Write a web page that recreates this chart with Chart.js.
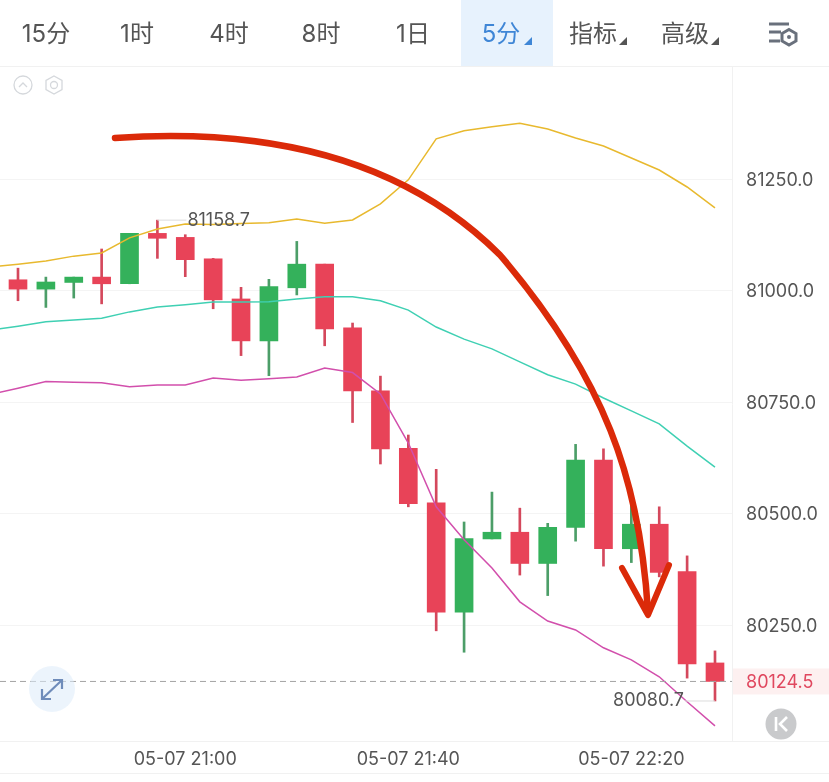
<!DOCTYPE html>
<html lang="zh">
<head>
<meta charset="utf-8">
<title>K线图</title>
<script src="https://cdn.jsdelivr.net/npm/chart.js@4/dist/chart.umd.min.js"></script>
<style>
    html, body { margin: 0; padding: 0; background: #fff; }
    #page { position: relative; width: 829px; height: 782px; overflow: hidden; font-family: Inter, "Noto Sans CJK SC", sans-serif; }
    #klineChart { position: absolute; left: 0; top: 0; }
    #overlay { position: absolute; left: 0; top: 0; }
    .rule { position: absolute; left: 0; width: 829px; height: 1px; background: #f1f1f1; }
    .active-tab { position: absolute; left: 461px; top: 0; width: 92px; height: 66px; background: #e7f2fd; }
    .tab { position: absolute; top: 17px; height: 34px; line-height: 34px; font-size: 24px; color: #555; transform: translateX(-50%); white-space: nowrap; }
    .tab.active { color: #3f86d6; }
</style>
</head>
<body>
<div id="page">
    <div class="active-tab"></div>
    <div class="rule" style="top:66px"></div>
    <div class="rule" style="top:741px"></div>
    <div class="rule" style="top:773px"></div>
    <canvas id="klineChart" width="829" height="782"></canvas>
    <div class="tab" style="left:46px">15分</div>
    <div class="tab" style="left:137px">1时</div>
    <div class="tab" style="left:229px">4时</div>
    <div class="tab" style="left:321px">8时</div>
    <div class="tab" style="left:413px">1日</div>
    <div class="tab active" style="left:501px">5分</div>
    <div class="tab" style="left:593px">指标</div>
    <div class="tab" style="left:685px">高级</div>
    <svg id="overlay" width="829" height="782" viewBox="0 0 829 782">
        <!-- toolbar triangles -->
        <path d="M524 45 L532 45 L532 37 Z" fill="#3f86d6"/>
        <path d="M619 45 L627 45 L627 37 Z" fill="#555"/>
        <path d="M711 45 L719 45 L719 37 Z" fill="#555"/>
        <!-- settings icon -->
        <g fill="none" stroke="#69707c" stroke-width="3">
            <path d="M769 24 H789"/>
            <path d="M769 32 H781"/>
            <path d="M769 41 H780"/>
            <path d="M789 29.5 L796 33.5 L796 41 L789 45 L782 41 L782 33.5 Z"/>
        </g>
        <circle cx="789" cy="37" r="2" fill="#69707c"/>
        <!-- small chart icons -->
        <circle cx="23" cy="85" r="9" fill="none" stroke="#d5d8dc" stroke-width="1.3"/>
        <path d="M19 87 L23 83 L27 87" fill="none" stroke="#d5d8dc" stroke-width="1.3"/>
        <path d="M54 76 L62 80.5 L62 89.5 L54 94 L46 89.5 L46 80.5 Z" fill="none" stroke="#d5d8dc" stroke-width="1.3"/>
        <circle cx="54" cy="85" r="3.5" fill="none" stroke="#d5d8dc" stroke-width="1.3"/>
        <!-- expand button -->
        <circle cx="52" cy="689" r="23" fill="#dcebfa" fill-opacity="0.55"/>
        <g fill="none" stroke="#6f8cba" stroke-width="2.2">
            <path d="M42 699 L61 681"/>
            <path d="M53 680 L62 680 L62 689"/>
            <path d="M42 689 L42 699 L51 699"/>
        </g>
        <!-- jump to latest button -->
        <circle cx="781" cy="724" r="15.5" fill="#c9cacc"/>
        <path d="M776 717 V731" stroke="#fff" stroke-width="2.6"/>
        <path d="M787 717 L780 724 L787 731" fill="none" stroke="#fff" stroke-width="2.6"/>
        <!-- hand drawn arrow -->
        <g fill="none" stroke="#db2a09" stroke-linecap="round" stroke-linejoin="round">
            <path d="M115 138 C260 128 400 155 500 255 C605 378 640 480 648 612" stroke-width="6.5"/>
            <path d="M622 568 L648 615 L669 565" stroke-width="6"/>
        </g>
    </svg>
</div>

<script>
const candleTimes = ['20:30', '20:35', '20:40', '20:45', '20:50', '20:55', '21:00', '21:05', '21:10', '21:15', '21:20', '21:25', '21:30',
    '21:35', '21:40', '21:45', '21:50', '21:55', '22:00', '22:05', '22:10', '22:15', '22:20', '22:25', '22:30', '22:35'];

const opens = [81025, 81004, 81019, 81031, 81016, 81129, 81120, 81072, 80982, 80888, 81007, 81060, 80917,
    80776, 80647, 80525, 80280, 80444, 80459, 80389, 80470, 80621, 80422, 80477, 80371, 80166];
const closes = [81004, 81020, 81031, 81016, 81129, 81118, 81070, 80980, 80888, 81010, 81060, 80915, 80776,
    80646, 80523, 80280, 80445, 80459, 80389, 80470, 80621, 80422, 80477, 80369, 80164, 80124.5];
const highs = [81051, 81031, 81031, 81094, 81129, 81158.7, 81126, 81073, 81008, 81026, 81111, 81060, 80928,
    80809, 80677, 80600, 80482, 80549, 80513, 80479, 80656, 80646, 80520, 80516, 80406, 80193];
const lows = [80978, 80963, 80984, 80971, 81016, 81073, 81032, 80960, 80855, 80810, 80991, 80877, 80705,
    80612, 80516, 80238, 80190, 80444, 80363, 80317, 80439, 80383, 80391, 80359, 80132, 80080.7];

// moving averages, first value belongs to the candle just off the left edge
const maYellow = [81054, 81060, 81067, 81078, 81085, 81119, 81139, 81150, 81149, 81151, 81153, 81161, 81152, 81159,
    81195, 81249, 81341, 81359, 81368, 81376, 81363, 81343, 81325, 81298, 81271, 81233, 81186];
const maTeal = [80912, 80921, 80931, 80935, 80939, 80953, 80964, 80969, 80975, 80975, 80976, 80982, 80987, 80987,
    80978, 80957, 80919, 80892, 80870, 80841, 80812, 80791, 80760, 80731, 80702, 80652, 80605];
const maPink = [80768, 80782, 80797, 80795, 80794, 80785, 80789, 80789, 80805, 80800, 80803, 80807, 80827, 80817,
    80769, 80659, 80516, 80442, 80379, 80303, 80260, 80240, 80200, 80173, 80135, 80079, 80025];

const priceTicks = [80250, 80500, 80750, 81000, 81250];
const timeTickIndexes = [6, 14, 22];
const timeTickLabels = ['05-07 21:00', '05-07 21:40', '05-07 22:20'];
const lastPrice = 80124.5;
const highMark = { index: 5, price: 81158.7 };
const lowMark = { index: 25, price: 80080.7 };

const UP = '#34b15b';
const DOWN = '#e84358';
const LABEL_FONT = '18px Inter, sans-serif';

const isUp = opens.map((open, i) => closes[i] >= open);
const candleColors = isUp.map(up => (up ? UP : DOWN));
const wickColors = isUp.map(up => (up ? '#4c9e68' : '#d4485c'));

function maDataset(values, color) {
    return {
        type: 'line',
        data: values.map((v, i) => ({ x: i - 1, y: v })),
        borderColor: color,
        borderWidth: 1.5,
        pointRadius: 0,
        tension: 0,
        order: 0
    };
}

// current price line and the high / low labels
const priceMarks = {
    id: 'priceMarks',
    afterDatasetsDraw(chart) {
        const { ctx, chartArea, scales } = chart;
        const y = scales.y.getPixelForValue(lastPrice);

        ctx.save();
        ctx.strokeStyle = '#a3a3a3';
        ctx.lineWidth = 1;
        ctx.setLineDash([6, 4]);
        ctx.beginPath();
        ctx.moveTo(chartArea.left, y);
        ctx.lineTo(chartArea.right, y);
        ctx.stroke();
        ctx.setLineDash([]);

        ctx.fillStyle = '#fdf0f0';
        ctx.fillRect(chartArea.right + 1, y - 13, 97, 26);
        ctx.font = LABEL_FONT;
        ctx.textBaseline = 'middle';
        ctx.textAlign = 'left';
        ctx.fillStyle = '#e0485f';
        ctx.fillText(lastPrice.toFixed(1), chartArea.right + 14, y + 1);

        ctx.strokeStyle = '#dddddd';
        ctx.fillStyle = '#555555';

        const hx = scales.x.getPixelForValue(highMark.index);
        const hy = scales.y.getPixelForValue(highMark.price);
        ctx.beginPath();
        ctx.moveTo(hx, hy);
        ctx.lineTo(hx + 29, hy);
        ctx.stroke();
        ctx.fillText(highMark.price.toFixed(1), hx + 30, hy);

        const lx = scales.x.getPixelForValue(lowMark.index);
        const ly = scales.y.getPixelForValue(lowMark.price);
        ctx.beginPath();
        ctx.moveTo(lx, ly);
        ctx.lineTo(lx - 30, ly);
        ctx.stroke();
        ctx.textAlign = 'right';
        ctx.fillText(lowMark.price.toFixed(1), lx - 31, ly);
        ctx.restore();
    }
};

new Chart(document.getElementById('klineChart'), {
    type: 'bar',
    data: {
        datasets: [
            maDataset(maYellow, '#e8b92e'),
            maDataset(maTeal, '#3fd0b3'),
            maDataset(maPink, '#d24fac'),
            {
                data: candleTimes.map((t, i) => ({ x: i, y: [opens[i], closes[i]] })),
                backgroundColor: candleColors,
                barThickness: 18,
                grouped: false,
                order: 1
            },
            {
                data: candleTimes.map((t, i) => ({ x: i, y: [lows[i], highs[i]] })),
                backgroundColor: wickColors,
                barThickness: 2,
                grouped: false,
                order: 2
            }
        ]
    },
    options: {
        responsive: false,
        animation: false,
        layout: { padding: { top: 67, left: 0, right: 0, bottom: 0 } },
        plugins: { legend: { display: false }, tooltip: { enabled: false } },
        scales: {
            x: {
                type: 'linear',
                offset: false,
                min: -0.6456,
                max: 25.61,
                afterBuildTicks(scale) {
                    scale.ticks = timeTickIndexes.map(v => ({ value: v }));
                },
                afterFit(scale) {
                    scale.height = 41;
                },
                grid: { display: false },
                border: { display: false },
                ticks: {
                    autoSkip: false,
                    maxRotation: 0,
                    padding: 0,
                    color: '#555',
                    font: { family: 'Inter, sans-serif', size: 18 },
                    callback: (value, index) => timeTickLabels[index]
                }
            },
            y: {
                position: 'right',
                min: 79991,
                max: 81502,
                afterBuildTicks(scale) {
                    scale.ticks = priceTicks.map(v => ({ value: v }));
                },
                afterFit(scale) {
                    scale.width = 97;
                },
                grid: { color: '#f4f4f4', drawTicks: false },
                border: { color: '#f1f1f1' },
                ticks: {
                    padding: 14,
                    labelOffset: 1,
                    color: '#555',
                    font: { family: 'Inter, sans-serif', size: 18 },
                    callback: value => value.toFixed(1)
                }
            }
        }
    },
    plugins: [priceMarks]
});
</script>
</body>
</html>
